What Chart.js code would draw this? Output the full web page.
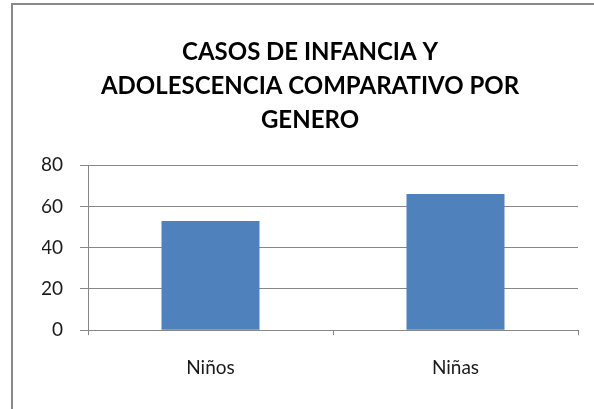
<!DOCTYPE html>
<html>
<head>
<meta charset="utf-8">
<script src="https://cdn.jsdelivr.net/npm/chart.js@4"></script>
<style>
  html, body { margin: 0; padding: 0; background: #fff; overflow: hidden; }
  #frame { position: absolute; left: 11px; top: 3px; width: 640px; height: 460px; border: 2px solid #8a8a8a; }
  #chart { position: absolute; left: 0; top: 0; }
</style>
</head>
<body>
<div id="frame"></div>
<canvas id="chart" width="594" height="409"></canvas>
<script>
const titleLines = ['CASOS DE INFANCIA Y', 'ADOLESCENCIA COMPARATIVO POR', 'GENERO'];
const categories = ['Niños', 'Niñas'];
const casos = [53, 66];
const yMax = 80;
const yStep = 20;

const gridColor = '#878787';
const font = 'Lato, "Open Sans", sans-serif';

new Chart(document.getElementById('chart'), {
    type: 'bar',
    data: {
        labels: categories,
        datasets: [{
            label: 'Casos',
            data: casos,
            backgroundColor: '#4f81bd',
            borderWidth: 0,
            categoryPercentage: 1,
            barPercentage: 0.4
        }]
    },
    options: {
        responsive: false,
        animation: false,
        devicePixelRatio: 1,
        layout: { padding: { left: 42, right: 16, top: 35, bottom: 9 } },
        plugins: {
            legend: { display: false },
            tooltip: { enabled: false },
            title: {
                display: true,
                text: titleLines,
                color: '#000',
                font: { family: font, size: 24, weight: 'bold', lineHeight: 1.42 },
                padding: { top: 0, bottom: 28 }
            }
        },
        scales: {
            x: {
                grid: { offset: true, drawOnChartArea: false, color: gridColor, tickLength: 5 },
                border: { color: gridColor, width: 1 },
                ticks: { color: '#1a1a1a', font: { family: font, size: 19 }, padding: 21 }
            },
            y: {
                min: 0,
                max: yMax,
                afterFit: s => { s.width = 46; },
                grid: { color: gridColor, tickLength: 8 },
                border: { color: gridColor, width: 1 },
                ticks: { stepSize: yStep, color: '#1a1a1a', font: { family: font, size: 19 }, padding: 17 }
            }
        }
    }
});
</script>
</body>
</html>
